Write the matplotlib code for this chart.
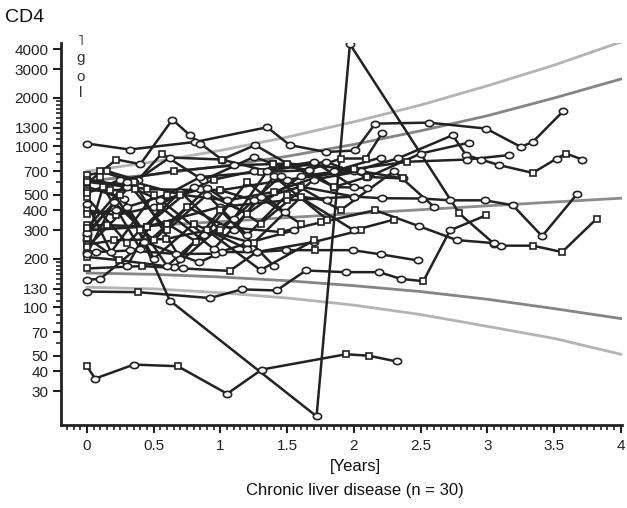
import numpy as np
import matplotlib
matplotlib.use("Agg")
import matplotlib.pyplot as plt
from matplotlib.ticker import FixedLocator, NullFormatter

plt.rcParams['font.family'] = ['Liberation Sans', 'DejaVu Sans']

# patient curves: years, CD4 count, marker per point (o = circle, s = square)
pat_t = [
    [0, 0.06, 0.35, 0.68, 1.05, 1.31, 1.94, 2.11, 2.32],
    [0, 0.28, 0.62, 1.72, 1.97, 2.79, 3.05, 3.10, 3.34, 3.56, 3.82],
    [0, 0.32, 0.81, 1.35, 1.52, 1.79, 2.01, 2.16, 2.56, 2.99, 3.25, 3.34, 3.57],
    [0, 0.22, 0.40, 0.64, 0.77, 0.85, 1.01, 1.26, 1.50, 1.85, 2.10, 2.37],
    [0, 0.15, 0.38, 0.56, 0.87, 1.25, 1.39, 1.66, 1.90, 2.09, 2.21],
    [0, 0.45, 1.00, 1.50, 2.00, 2.33, 2.74, 2.84, 2.95, 3.09, 3.34, 3.52, 3.59, 3.71],
    [0, 0.45, 1.00, 1.50, 2.00, 2.21, 2.51, 2.72, 2.98, 3.19, 3.41, 3.67],
    [0, 0.38, 0.92, 1.16, 1.42, 1.64, 1.94, 2.19, 2.35, 2.52, 2.72, 2.99],
    [0, 0.41, 0.72, 1.07, 1.27, 1.49, 1.71, 1.99, 2.20, 2.48],
    [0, 0.24, 0.65, 1.00, 1.45, 1.75, 2.16, 2.49, 2.77, 3.05],
    [0, 0.10, 0.43, 0.84, 1.01, 1.27, 1.70, 2.05],
    [0, 0.17, 0.36, 0.55, 0.85, 1.00, 1.25, 1.60, 2.00],
    [0, 0.15, 0.45, 0.60, 0.82, 1.10, 1.39, 1.66],
    [0, 0.07, 0.32, 0.67, 0.96, 1.20, 1.55],
    [0, 0.22, 0.50, 0.95, 1.25, 1.70, 2.00],
    [0, 0.22, 0.60, 0.85, 1.30, 1.66, 1.85, 2.10],
    [0, 0.12, 0.40, 0.75, 1.10, 1.40, 1.80],
    [0, 0.20, 0.59, 0.90, 1.25],
    [0, 0.30, 0.62, 1.01, 1.35, 1.79, 2.10, 2.50, 2.86],
    [0, 0.30, 0.70, 1.00, 1.45, 1.90, 2.30, 2.60],
    [0, 0.25, 0.50, 0.80, 1.20, 1.60, 2.00, 2.30],
    [0, 0.30, 0.60, 0.90, 1.30, 1.70],
    [0.10, 0.35, 0.70, 1.05, 1.40, 1.85, 2.20],
    [0, 0.20, 0.50, 0.90, 1.30, 1.70, 2.05, 2.37],
    [0, 0.30, 0.55, 0.95, 1.30, 1.60],
    [0, 0.25, 0.65, 1.10, 1.50, 2.00, 2.40, 2.85, 3.16],
    [0, 0.35, 0.70, 1.00, 1.40],
    [0.10, 0.40, 0.80, 1.20, 1.60, 2.00],
    [0, 0.30, 0.60, 0.90, 1.20, 1.50, 1.80],
    [0, 0.18, 0.50, 0.88, 1.20, 1.48],
]
pat_v = [
    [43, 36, 44, 43, 29, 41, 51, 50, 46],
    [560, 470, 110, 21, 4300, 382, 248, 241, 241, 220, 355],
    [1038, 953, 1062, 1310, 1015, 920, 940, 1380, 1400, 1286, 990, 1062, 1655],
    [590, 826, 773, 1463, 1170, 1037, 826, 1015, 780, 558, 644, 630],
    [660, 700, 614, 900, 614, 857, 780, 708, 838, 838, 1200],
    [620, 540, 532, 620, 700, 840, 1170, 880, 826, 762, 682, 838, 900, 826],
    [300, 317, 420, 461, 486, 475, 473, 461, 461, 430, 276, 502],
    [125, 124, 114, 129, 127, 169, 165, 165, 150, 145, 300, 372],
    [174, 180, 174, 168, 220, 226, 226, 226, 213, 195],
    [205, 196, 177, 317, 293, 336, 400, 318, 261, 250],
    [148, 150, 254, 190, 220, 220, 254, 300],
    [530, 532, 540, 460, 540, 532, 461, 560, 486],
    [323, 323, 317, 330, 255, 355, 780, 708],
    [220, 220, 225, 214, 215, 250, 300],
    [400, 373, 420, 620, 700, 800, 560],
    [380, 400, 500, 644, 690, 708, 558, 550],
    [260, 560, 230, 420, 300, 650, 350],
    [245, 260, 265, 300, 249],
    [600, 560, 850, 826, 700, 800, 640, 900, 1050],
    [480, 250, 520, 300, 650, 400, 700, 420],
    [280, 500, 200, 330, 230, 480, 300, 350],
    [235, 420, 180, 300, 170, 260],
    [700, 600, 500, 460, 520, 700, 850],
    [215, 450, 260, 550, 330, 620, 700, 630],
    [270, 180, 420, 230, 480, 330],
    [510, 620, 700, 760, 780, 720, 800, 826, 880],
    [290, 600, 200, 400, 180],
    [640, 300, 560, 380, 650, 720],
    [310, 600, 300, 500, 280, 500, 460],
    [440, 220, 500, 280, 600, 390],
]
pat_m = [
    "soosoosso", "soooosoosss", "ooooooooooooo", "ssoooooooooo",
    "ssosoososso", "ssoooooooososo", "ssosoooooooo", "osooooooosos",
    "ssosoosooo", "ssoosssooo", "ooooooos", "sssoososo",
    "sssssoso", "ooooooo", "ssosooo", "sosososo",
    "ososoos", "sssos", "soosoosoo", "ssososoo",
    "osososos", "soosos", "sososoo", "oososoos",
    "sosoos", "sosososoo", "ososo", "ssosos",
    "sosooso", "oososo",
]

# reference band (median, inner and outer limits)
band_t = [0, 0.5, 1.0, 1.5, 2.0, 2.5, 3.0, 3.5, 4.0]
band_mid = [305, 322, 340, 360, 381, 403, 426, 450, 475]
band_in_hi = [608, 667, 750, 865, 1025, 1245, 1545, 1990, 2610]
band_in_lo = [163, 160, 154, 146, 136, 125, 112, 98, 85]
band_out_hi = [698, 800, 940, 1138, 1416, 1800, 2370, 3184, 4436]
band_out_lo = [133, 130, 123, 114, 103, 90, 76, 64, 51]

y_major = [30, 40, 50, 70, 100, 130, 200, 300, 400, 500, 700, 1000, 1300, 2000, 3000, 4000]
y_minor = [60, 80, 90, 110, 120, 140, 150, 160, 170, 180, 190, 600, 800, 900,
           1100, 1200, 1400, 1500, 1600, 1700, 1800, 1900]
x_major = [0, 0.5, 1, 1.5, 2, 2.5, 3, 3.5, 4]

fig = plt.figure(figsize=(6.27, 5.08), dpi=100)
ax = fig.add_axes([0.0973, 0.163, 0.895, 0.752])

ink = '#222222'
ax.plot(band_t, band_out_hi, color='#b4b4b4', lw=2, zorder=2)
ax.plot(band_t, band_out_lo, color='#b4b4b4', lw=2, zorder=2)
ax.plot(band_t, band_in_hi, color='#858585', lw=2, zorder=2)
ax.plot(band_t, band_in_lo, color='#858585', lw=2, zorder=2)
ax.plot(band_t, band_mid, color='#8c8c8c', lw=2, zorder=2)

th = np.linspace(0, 2 * np.pi, 25)
oval = list(zip(np.cos(th), 0.75 * np.sin(th)))

for t, v, m in zip(pat_t, pat_v, pat_m):
    ax.plot(t, v, color=ink, lw=1.8, zorder=3)
    m = m.lower()
    to = [a for a, k in zip(t, m) if k == 'o']
    vo = [b for b, k in zip(v, m) if k == 'o']
    ts = [a for a, k in zip(t, m) if k == 's']
    vs = [b for b, k in zip(v, m) if k == 's']
    ax.plot(to, vo, ls='none', marker=oval, ms=6, mfc='white', mec=ink, mew=1.2, zorder=4)
    ax.plot(ts, vs, ls='none', marker='s', ms=4.5, mfc='white', mec=ink, mew=1.2, zorder=4)

ax.set_yscale('log')
ax.set_xlim(-0.195, 4.01)
ax.set_ylim(18.5, 4360)

ax.yaxis.set_major_locator(FixedLocator(y_major))
ax.yaxis.set_minor_locator(FixedLocator(y_minor))
ax.set_yticklabels([str(y) for y in y_major])
ax.yaxis.set_minor_formatter(NullFormatter())
ax.xaxis.set_major_locator(FixedLocator(x_major))
ax.xaxis.set_minor_locator(FixedLocator(np.arange(-0.15, 4.01, 0.05)))
ax.set_xticklabels(['0', '0.5', '1', '1.5', '2', '2.5', '3', '3.5', '4'])

for s in ['top', 'right']:
    ax.spines[s].set_visible(False)
for s in ['left', 'bottom']:
    ax.spines[s].set_linewidth(2)
    ax.spines[s].set_color(ink)
ax.tick_params(which='major', length=6, width=1.5, color=ink, labelsize=11, labelcolor='#222')
ax.tick_params(which='minor', length=3.5, width=1.2, color=ink)
ax.tick_params(axis='x', pad=4)
ax.tick_params(axis='y', pad=3)

fig.text(0.008, 0.965, 'CD4', fontsize=14, color='#111', va='center', ha='left')
for ch, yp in zip(['˥', 'g', 'o', 'l'], [41, 58, 77, 93]):
    fig.text(81 / 627, 1 - yp / 508, ch, fontsize=11, color='#333', ha='center', va='center')

fig.text(355 / 627, 1 - 467 / 508, '[Years]', fontsize=12, color='#111', ha='center', va='center')
fig.text(355 / 627, 1 - 490 / 508, 'Chronic liver disease (n = 30)', fontsize=12,
         color='#111', ha='center', va='center')

fig.savefig('out.png', dpi=100)
